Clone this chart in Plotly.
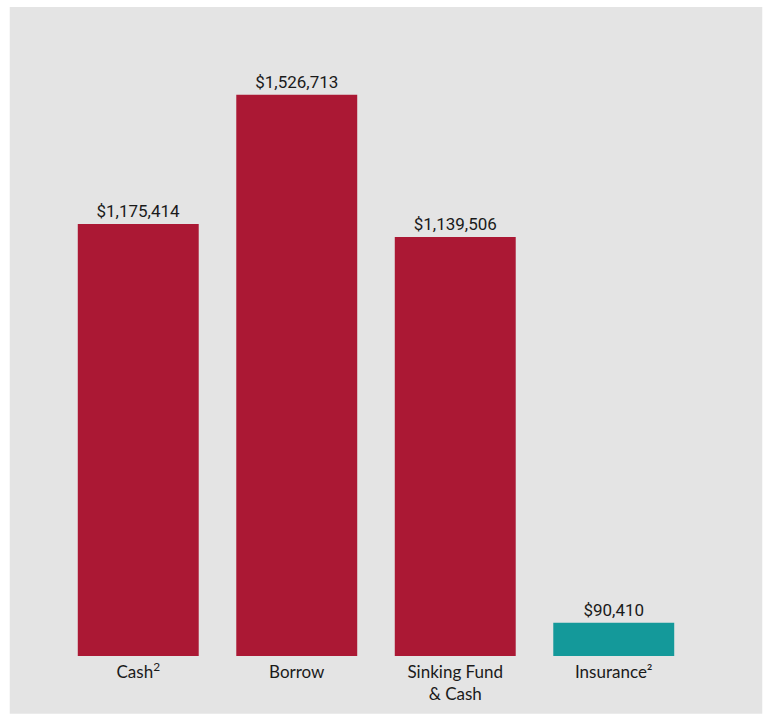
import plotly.graph_objects as go

categories = ["Cash<sup>2</sup>", "Borrow", "Sinking Fund<br>& Cash", "Insurance²"]
values = [1175414, 1526713, 1139506, 90410]
labels = ["$1,175,414", "$1,526,713", "$1,139,506", "$90,410"]
colors = ["#AB1834", "#AB1834", "#AB1834", "#14999A"]

W, H = 765, 716
left, top, right, bottom = 59.25, 20, W - 693.25, H - 658
pw = W - left - right
ph = H - top - bottom

fig = go.Figure(go.Bar(
    x=categories, y=values, text=labels, textposition="outside",
    marker=dict(color=colors, line=dict(width=0)),
    textfont=dict(size=17, color="#1a1a1a", family="Roboto"),
    cliponaxis=False, hoverinfo="skip",
))

def fx(px):
    return (px - left) / pw

def fy(py):
    return (H - bottom - py) / ph

fig.add_shape(type="rect", xref="paper", yref="paper",
              x0=fx(10), x1=fx(762.5), y0=fy(716), y1=fy(7),
              fillcolor="#E4E4E4", line=dict(width=0), layer="below")

fig.update_layout(
    width=W, height=H,
    margin=dict(l=left, r=right, t=top, b=bottom, pad=0),
    paper_bgcolor="white", plot_bgcolor="rgba(0,0,0,0)",
    bargap=0.237, showlegend=False,
    font=dict(family="Roboto", size=17, color="#1a1a1a"),
    xaxis=dict(showgrid=False, showline=False, zeroline=False, ticks="",
               tickfont=dict(size=17, color="#1a1a1a", family="Lato"),
               range=[-0.5, 3.5], ticklabelstandoff=4),
    yaxis=dict(visible=False, range=[0, 1730000]),
)

fig.write_html("out.html")
